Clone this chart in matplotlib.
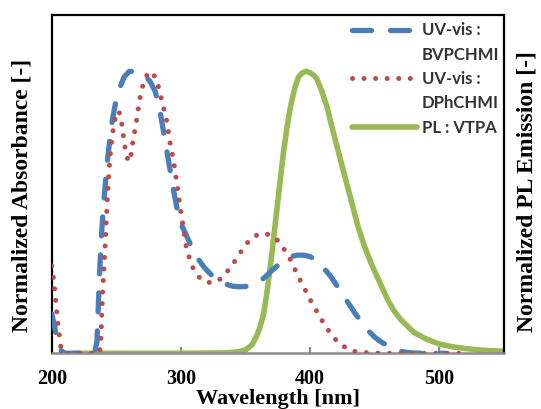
import matplotlib
matplotlib.use("Agg")
import matplotlib.pyplot as plt
from matplotlib.lines import Line2D

# ---------------- data ----------------
wl_bvp = [200, 202, 204, 206, 208, 211, 220, 233, 235, 236, 237, 238.5, 240, 241.5,
          243, 245, 247, 249.5, 252.5, 256, 260, 265, 270, 272, 276, 280, 283, 286,
          289, 292, 295, 298, 301, 304, 307, 310, 314, 318, 322, 326, 330, 335, 340,
          345, 350, 355, 360, 365, 370, 375, 380, 385, 390, 395, 400, 405, 410, 415,
          420, 425, 430, 435, 440, 445, 450, 455, 460, 465, 470, 475, 480, 490, 505]
abs_bvp = [0.14, 0.10, 0.05, 0.02, 0.005, 0.0, 0.0, 0.0, 0.04, 0.16, 0.28, 0.42, 0.52, 0.60,
           0.68, 0.76, 0.83, 0.89, 0.94, 0.98, 1.0, 1.0, 0.99, 0.985, 0.965, 0.93, 0.88, 0.80,
           0.72, 0.64, 0.56, 0.49, 0.45, 0.42, 0.39, 0.365, 0.33, 0.305, 0.285, 0.268, 0.255,
           0.245, 0.238, 0.236, 0.237, 0.242, 0.252, 0.27, 0.292, 0.312, 0.33, 0.343, 0.348,
           0.348, 0.343, 0.328, 0.305, 0.278, 0.245, 0.21, 0.175, 0.14, 0.11, 0.08, 0.057,
           0.04, 0.027, 0.015, 0.007, 0.003, 0.001, 0.0, 0.0]

wl_dph = [200, 201, 202, 203, 204, 205, 206, 207, 209, 212, 225, 237, 238, 238.6, 239.3,
          240, 241, 242, 243, 244, 245, 246.3, 247.7, 249.5, 252, 254, 255.5, 257, 259,
          260.5, 262, 263, 265, 266.2, 267.6, 269, 271.5, 274, 277, 280, 283, 285.5,
          287.5, 289.3, 290.6, 292, 294, 296, 298, 300, 302, 304, 307, 310, 315, 320,
          325, 330, 335, 340, 345, 350, 355, 360, 365, 370, 375, 380, 385, 390, 395,
          400, 405, 410, 415, 420, 425, 430, 435, 440, 450, 460, 480, 500, 515]
abs_dph = [0.31, 0.28, 0.24, 0.19, 0.14, 0.095, 0.06, 0.025, 0.005, 0.0, 0.0, 0.0, 0.04,
           0.12, 0.20, 0.27, 0.35, 0.45, 0.54, 0.62, 0.69, 0.75, 0.80, 0.84, 0.86, 0.82,
           0.77, 0.72, 0.685, 0.68, 0.72, 0.76, 0.805, 0.845, 0.885, 0.925, 0.965, 0.99,
           1.0, 0.98, 0.94, 0.89, 0.853, 0.818, 0.776, 0.734, 0.693, 0.63, 0.565, 0.50,
           0.44, 0.38, 0.33, 0.295, 0.265, 0.252, 0.25, 0.262, 0.285, 0.315, 0.35, 0.385,
           0.41, 0.422, 0.425, 0.418, 0.40, 0.368, 0.33, 0.28, 0.235, 0.19, 0.15, 0.11,
           0.075, 0.047, 0.027, 0.013, 0.006, 0.003, 0.001, 0.0, 0.0, 0.0, 0.0]

wl_pl = [217, 250, 300, 330, 340, 345, 350, 355, 358, 361, 364, 367, 370, 373, 376, 379,
         382, 385, 388, 391, 394, 397, 400, 403, 405, 409, 413, 417, 421, 425, 429, 433,
         437, 442, 448, 454, 460, 465, 470, 480, 490, 500, 510, 520, 530, 540, 550]
pl_vtpa = [0.0, 0.0, 0.0, 0.001, 0.003, 0.006, 0.012, 0.03, 0.055, 0.09, 0.14, 0.23, 0.34,
           0.46, 0.58, 0.70, 0.80, 0.88, 0.94, 0.98, 0.995, 1.0, 0.995, 0.985, 0.975, 0.93,
           0.875, 0.80, 0.73, 0.66, 0.59, 0.52, 0.45, 0.38, 0.31, 0.25, 0.19, 0.15, 0.12,
           0.075, 0.05, 0.033, 0.023, 0.017, 0.012, 0.009, 0.007]

labels = ["UV-vis :", "BVPCHMI", "UV-vis :", "DPhCHMI", "PL : VTPA"]
xticks = [200, 300, 400, 500]

# ---------------- styling ----------------
c_blue = "#4A7EBB"
c_red = "#BE4B48"
c_green = "#98B954"
serif = ["Liberation Serif", "DejaVu Serif"]

fig = plt.figure(figsize=(5.41, 4.09), dpi=100)
ax = fig.add_axes([0.0956, 0.1362, 0.9316 - 0.0956, 0.9633 - 0.1362])

ax.plot(wl_pl, pl_vtpa, color=c_green, lw=4.0, solid_capstyle="round", zorder=2)
ax.plot(wl_bvp, abs_bvp, color=c_blue, lw=3.8, linestyle=(0, (3.6, 3.6)),
        dash_capstyle="round", zorder=3)
ax.plot(wl_dph, abs_dph, color=c_red, lw=3.6, linestyle=(0, (0.01, 2.3)),
        dash_capstyle="round", zorder=4)

ax.set_xlim(200, 550)
ax.set_ylim(0, 1.2)
ax.set_xticks(xticks)
ax.set_yticks([])
ax.tick_params(axis="x", direction="in", length=4, width=1.5, color="#8C8C8C",
               pad=11, labelsize=14.5)
for t in ax.get_xticklabels():
    t.set_fontfamily(serif)
    t.set_fontweight("bold")

for side in ["left", "top", "right"]:
    ax.spines[side].set_color("black")
    ax.spines[side].set_linewidth(1.6)
ax.spines["bottom"].set_color("#8C8C8C")
ax.spines["bottom"].set_linewidth(1.8)

ax.set_xlabel("Wavelength [nm]", fontsize=16, fontweight="bold",
              family=serif, labelpad=0)
fig.text(0.0401, 0.522, "Normalized Absorbance [-]", rotation=90, ha="center",
         va="center", fontsize=17, fontweight="bold", family=serif)
fig.text(0.974, 0.532, "Normalized PL Emission [-]", rotation=90, ha="center",
         va="center", fontsize=17, fontweight="bold", family=serif)

handles = [
    Line2D([], [], color=c_blue, lw=3.8, linestyle=(0, (3.6, 3.6)), dash_capstyle="round"),
    Line2D([], [], color="none", lw=0),
    Line2D([], [], color=c_red, lw=3.6, linestyle=(0, (0.01, 2.3)), dash_capstyle="round"),
    Line2D([], [], color="none", lw=0),
    Line2D([], [], color=c_green, lw=4.0, solid_capstyle="round"),
]
leg = fig.legend(handles, labels, loc="upper left", bbox_to_anchor=(0.6506, 0.945),
                 frameon=False, handlelength=3.9, handletextpad=0.28,
                 labelspacing=0.5, borderpad=0, borderaxespad=0,
                 prop={"family": ["Lato", "DejaVu Sans"], "weight": "bold", "size": 12})
for t in leg.get_texts():
    t.set_color("#333333")

fig.savefig("out.png", dpi=100)
